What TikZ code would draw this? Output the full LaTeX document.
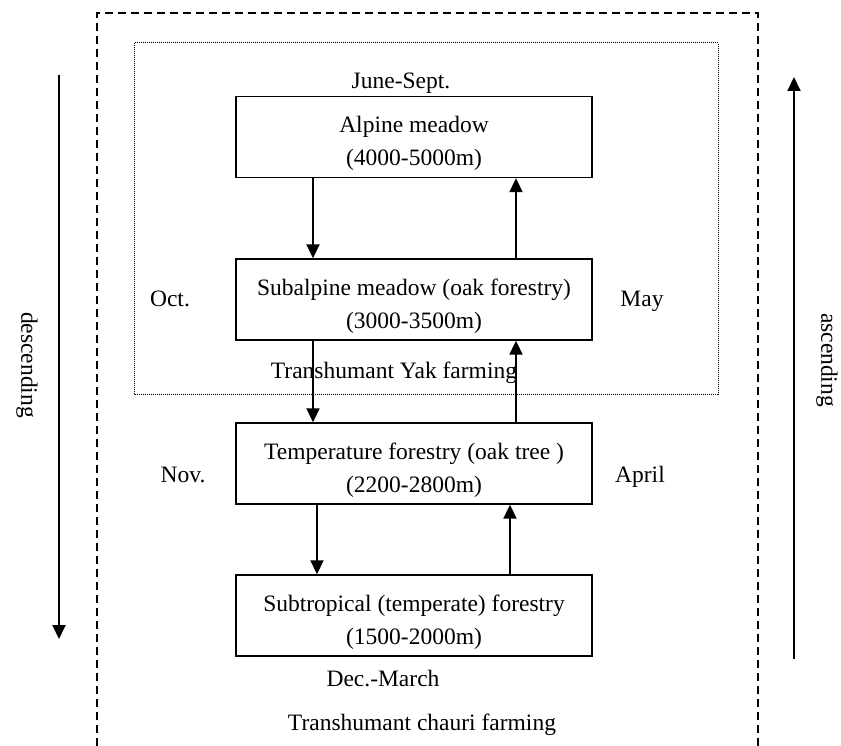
\documentclass[tikz,border=0pt]{standalone}
\usepackage{fontspec}
\setmainfont{Liberation Serif}
\usetikzlibrary{arrows.meta,positioning}

\begin{document}
\begin{tikzpicture}[
  x=1pt,y=-1pt,
  font=\fontsize{23.5}{33}\selectfont,
  zone/.style={draw,line width=1.4pt,minimum width=356pt,minimum height=81pt,inner sep=0pt,align=center,text height=63pt},
  note/.style={inner sep=0pt,anchor=base},
  side/.style={inner sep=0pt,rotate=-90},
  move/.style={-{Triangle[length=14pt,width=13pt]},line width=2pt},
  trend/.style={-{Triangle[length=14pt,width=13pt]},line width=2pt},
  outer/.style={line width=1.4pt,dash pattern=on 8pt off 5pt},
  inner/.style={line width=1pt,dash pattern=on 1pt off 1pt}
]
\useasboundingbox (0,0) rectangle (841,746);

% Frames
\draw[outer] (97,746) -- (97,13) -- (758,13) -- (758,746);
\draw[inner] (134,43) rectangle (718,394);

% Altitude zones
\node[zone] (alpine) at (414,137) {Alpine meadow\\(4000-5000m)};
\node[zone] (subalp) at (414,299.5) {Subalpine meadow (oak forestry)\\(3000-3500m)};
\node[zone] (temper) at (414,463.5) {Temperature forestry (oak tree )\\(2200-2800m)};
\node[zone] (subtrop) at (414,615.5) {Subtropical (temperate) forestry\\(1500-2000m)};

% Months
\node[note] (junesept) at (401,89) {June-Sept.};
\node[note] (oct) at (170,306) {Oct.};
\node[note] (may) at (642,306) {May};
\node[note] (nov) at (183,482) {Nov.};
\node[note] (april) at (640,482) {April};
\node[note] (decmarch) at (383,686) {Dec.-March};

% Farming systems
\node[note] (yak) at (394,378) {Transhumant Yak farming};
\node[note] (chauri) at (422,730) {Transhumant chauri farming};

% Moves between zones
\draw[move] ([xshift=-101pt]alpine.south) -- ([xshift=-101pt]subalp.north);
\draw[move] ([xshift=102pt]subalp.north) -- ([xshift=102pt]alpine.south);
\draw[move] ([xshift=-101pt]subalp.south) -- ([xshift=-101pt]temper.north);
\draw[move] ([xshift=102pt]temper.north) -- ([xshift=102pt]subalp.south);
\draw[move] ([xshift=-97pt]temper.south) -- ([xshift=-97pt]subtrop.north);
\draw[move] ([xshift=96pt]subtrop.north) -- ([xshift=96pt]temper.south);

% Descending / ascending
\coordinate (desctop) at (59,75);
\coordinate (descend) at (59,639);
\coordinate (ascbot) at (794,659);
\coordinate (asctop) at (794,77);
\draw[trend] (desctop) -- (descend);
\draw[trend] (ascbot) -- (asctop);
\node[side] (desc) at (27,365) {descending};
\node[side] (asc) at (827,360) {ascending};
\end{tikzpicture}
\end{document}
